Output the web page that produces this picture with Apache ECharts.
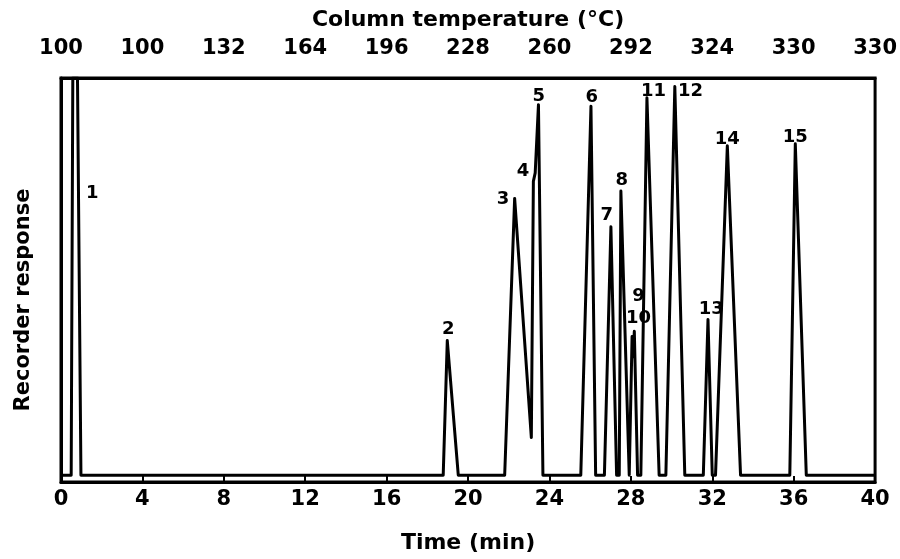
<!DOCTYPE html>
<html>
<head>
<meta charset="utf-8">
<script src="https://cdn.jsdelivr.net/npm/echarts@6/dist/echarts.min.js"></script>
<style>html,body{margin:0;padding:0;background:#fff}#c{width:900px;height:559px}</style>
</head>
<body>
<div id="c"></div>
<script>
// Retention time (min) of trace points
var traceTime = [0, 0.5, 0.58, 0.6, 0.81, 0.83, 0.98,
  18.78, 18.98, 19.52,
  21.8, 22.29, 23.11, 23.21, 23.3, 23.46, 23.68,
  25.54, 26.04, 26.27,
  26.7, 27.02, 27.3,
  27.43, 27.51, 27.92,
  28.06, 28.11, 28.17, 28.33,
  28.49, 28.79, 29.39,
  29.72, 30.16, 30.65,
  31.56, 31.79, 32.0,
  32.16, 32.74, 33.39,
  35.81, 36.08, 36.62,
  40];
// Recorder response (relative, 0-100 full scale)
var traceResp = [1.7, 1.7, 100, 100, 100, 100, 1.7,
  1.7, 35.0, 1.7,
  1.7, 70.2, 11.0, 74.4, 76.5, 93.4, 1.7,
  1.7, 93.0, 1.7,
  1.7, 63.2, 1.7,
  1.7, 72.0, 1.7,
  36.0, 31.0, 37.3, 1.7,
  1.7, 95.1, 1.7,
  1.7, 97.9, 1.7,
  1.7, 40.2, 1.7,
  1.7, 83.2, 1.7,
  1.7, 83.7, 1.7,
  1.7];
// Peak numbers and where their labels sit (time, response)
var peakNames = ['1','2','3','4','5','6','7','8','9','10','11','12','13','14','15'];
var peakLabelTime = [1.54, 19.03, 21.72, 22.70, 23.48, 26.08, 26.81, 27.55, 28.38, 28.38, 29.11, 30.93, 31.95, 32.74, 36.08];
var peakLabelResp = [71.5, 37.8, 70.0, 76.8, 95.4, 95.1, 65.9, 74.6, 45.9, 40.5, 96.6, 96.6, 42.7, 84.9, 85.4];
// Axis tick labels
var timeTicks = [0, 4, 8, 12, 16, 20, 24, 28, 32, 36, 40];
var tempLabels = ['100', '100', '132', '164', '196', '228', '260', '292', '324', '330', '330'];

var FONT = 'DejaVu Sans';
var chart = echarts.init(document.getElementById('c'));
var line = traceTime.map(function (t, i) { return [t, traceResp[i]]; });
var labels = peakNames.map(function (n, i) { return { value: [peakLabelTime[i], peakLabelResp[i]], name: n }; });

chart.setOption({
  animation: false,
  backgroundColor: '#fff',
  grid: { left: 61, right: 22, top: 78, bottom: 69, show: true, borderColor: '#000', borderWidth: 3, backgroundColor: 'transparent' },
  xAxis: [{
    type: 'value', position: 'bottom', min: 0, max: 40, interval: 4,
    name: 'Time (min)', nameLocation: 'middle', nameGap: 50,
    nameTextStyle: { fontFamily: FONT, fontWeight: 'bold', fontSize: 22, color: '#000' },
    axisLine: { show: true, lineStyle: { color: '#000', width: 3 } },
    axisTick: { show: true, inside: true, length: 6, lineStyle: { color: '#000', width: 2 } },
    axisLabel: { color: '#000', fontFamily: FONT, fontWeight: 'bold', fontSize: 21, margin: 7,
      formatter: function (v) { return timeTicks.indexOf(v) >= 0 ? String(v) : ''; } },
    splitLine: { show: false }
  }, {
    type: 'value', position: 'top', min: 0, max: 40, interval: 4,
    name: 'Column temperature (°C)', nameLocation: 'middle', nameGap: 47,
    nameTextStyle: { fontFamily: FONT, fontWeight: 'bold', fontSize: 22, color: '#000' },
    axisLine: { show: true, lineStyle: { color: '#000', width: 3 } },
    axisTick: { show: false },
    axisLabel: { color: '#000', fontFamily: FONT, fontWeight: 'bold', fontSize: 21, margin: 19,
      formatter: function (v) { var i = timeTicks.indexOf(v); return i >= 0 ? tempLabels[i] : ''; } },
    splitLine: { show: false }
  }],
  yAxis: {
    type: 'value', min: 0, max: 100, show: true,
    axisLine: { show: true, lineStyle: { color: '#000', width: 3 } },
    axisTick: { show: false }, axisLabel: { show: false }, splitLine: { show: false }
  },
  graphic: [{
    type: 'text', x: 24, y: 300, rotation: Math.PI / 2,
    style: { text: 'Recorder response', fontFamily: FONT, fontWeight: 'bold', fontSize: 21, fill: '#000', align: 'center', verticalAlign: 'middle' }
  }],
  series: [{
    type: 'line', data: line, xAxisIndex: 0, showSymbol: false, symbol: 'none',
    lineStyle: { color: '#000', width: 3, join: 'round' }, clip: true
  }, {
    type: 'scatter', data: labels, xAxisIndex: 0, symbolSize: 1, silent: true,
    itemStyle: { opacity: 0 },
    label: { show: true, position: 'inside', formatter: '{b}', color: '#000', opacity: 1, textBorderWidth: 0, fontFamily: FONT, fontWeight: 'bold', fontSize: 18 }
  }]
});
</script>
</body>
</html>
